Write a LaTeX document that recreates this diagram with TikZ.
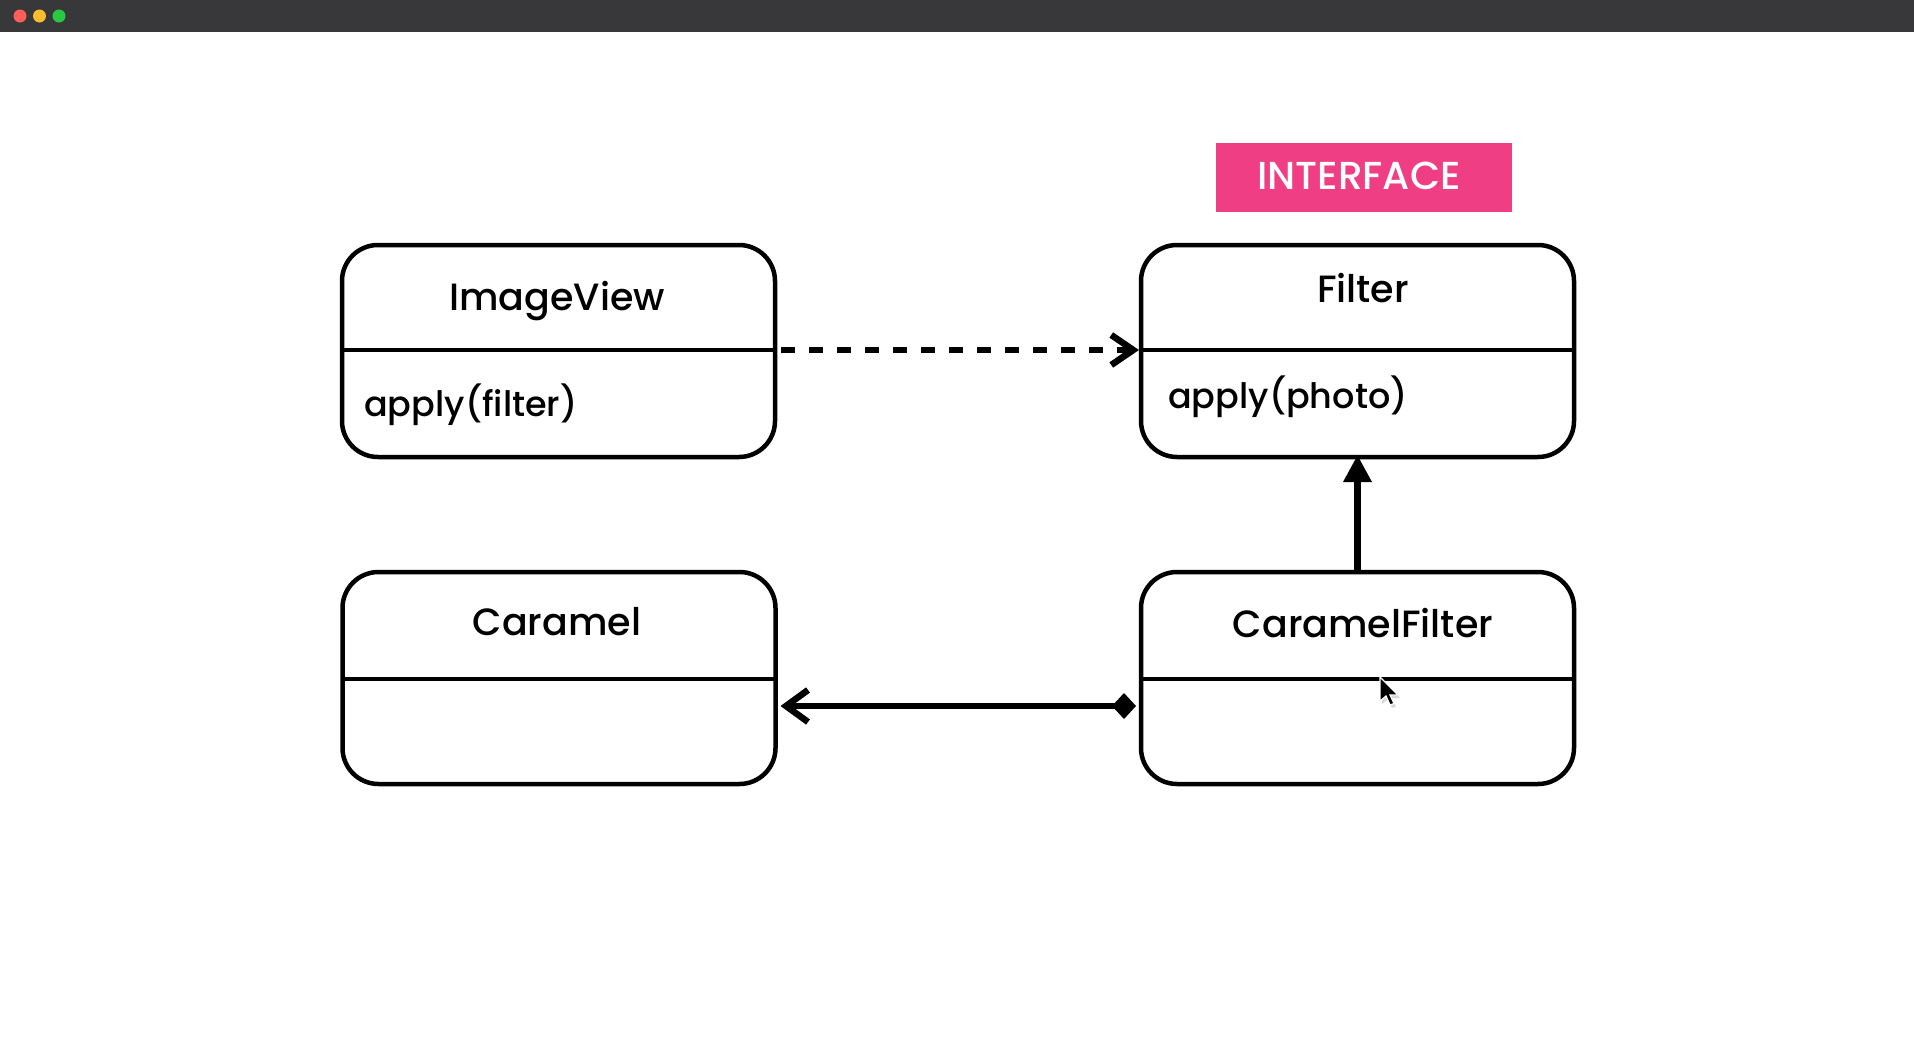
\documentclass[tikz,border=0pt]{standalone}
\usepackage{fontspec}
\setmainfont{Poppins}[UprightFont={* Medium}]
\usetikzlibrary{arrows.meta}
\definecolor{barcol}{HTML}{38383A}
\definecolor{dotred}{HTML}{FF5F57}
\definecolor{dotyel}{HTML}{FEBC2E}
\definecolor{dotgrn}{HTML}{28C840}
\definecolor{ifpink}{HTML}{EF3E83}
\tikzset{
  classbox/.style={draw=black, line width=4.5pt, rounded corners=36pt, minimum width=433pt, minimum height=212pt, inner sep=0pt, outer sep=0pt},
  divline/.style={line width=4.5pt},
  titletxt/.style={anchor=base, inner sep=0pt, font=\fontsize{38}{45}\selectfont},
  methtxt/.style={anchor=base west, inner sep=0pt, font=\fontsize{35}{42}\selectfont},
  conn/.style={line width=6.5pt},
}
\begin{document}
\begin{tikzpicture}[x=1pt,y=-1pt]
\useasboundingbox (0,0) rectangle (1914,1052);
\fill[white] (0,0) rectangle (1914,1052);
% window title bar
\fill[barcol] (0,0) rectangle (1914,32);
\fill[dotred] (20,16) circle (6.5);
\fill[dotyel] (39.5,16) circle (6.5);
\fill[dotgrn] (59,16) circle (6.5);
% interface label
\node[fill=ifpink, minimum width=296pt, minimum height=69pt, inner sep=0pt, outer sep=0pt] (iflabel) at (1364,177.5) {};
\node[anchor=base, inner sep=0pt, text=white, font=\fontsize{39}{46}\selectfont] (iftext) at (1359,189) {INTERFACE};
% class boxes
\node[classbox] (iv) at (558.5,351) {};
\node[classbox] (fl) at (1357.5,351) {};
\node[classbox] (car) at (559,678) {};
\node[classbox] (cf) at (1357.5,678) {};
% dividers
\draw[divline] (iv.west |- 0,350) -- (iv.east |- 0,350);
\draw[divline] (fl.west |- 0,350) -- (fl.east |- 0,350);
\draw[divline] (car.west |- 0,679) -- (car.east |- 0,679);
\draw[divline] (cf.west |- 0,679) -- (cf.east |- 0,679);
% texts
\node[titletxt] (ivt) at (557,310) {ImageView};
\node[methtxt] (ivm) at (364,416) {apply(filter)};
\node[titletxt] (flt) at (1363,302) {Filter};
\node[methtxt] (flm) at (1168,408) {apply(photo)};
\node[titletxt] (cart) at (557,635) {Caramel};
\node[titletxt] (cft) at (1363,637) {CaramelFilter};
% connectors
\coordinate (d1) at ([xshift=6pt]iv.east |- 0,350);
\coordinate (d2) at ([xshift=-2pt]fl.west |- 0,350);
\draw[conn, dash pattern=on 14pt off 14pt, -{Straight Barb[length=22pt, width=30pt, line width=6.5pt]}] (d1) -- (d2);
\coordinate (v1) at (cf.north);
\coordinate (v2) at ([yshift=2pt]fl.south);
\draw[conn, -{Triangle[length=27pt, width=27pt]}] (v1) -- (v2);
\coordinate (h1) at ([xshift=-5pt]cf.west |- 0,706);
\coordinate (h2) at ([xshift=5pt]car.east |- 0,706);
\draw[conn, {Diamond[length=24pt, width=26pt]}-{Straight Barb[length=22pt, width=32pt, line width=6.5pt]}] (h1) -- (h2);
% mouse pointer
\begin{scope}[shift={(1380,677)}]
\fill[black!25, opacity=0.6] (2,3) -- (2,27) -- (8,22) -- (12,31) -- (16,29.5) -- (12,21) -- (20,21) -- cycle;
\filldraw[fill=black, draw=white, line width=1.2pt] (0,0) -- (0,24) -- (6,19) -- (10,28) -- (14,26.5) -- (10,18) -- (18,18) -- cycle;
\end{scope}
\end{tikzpicture}
\end{document}
